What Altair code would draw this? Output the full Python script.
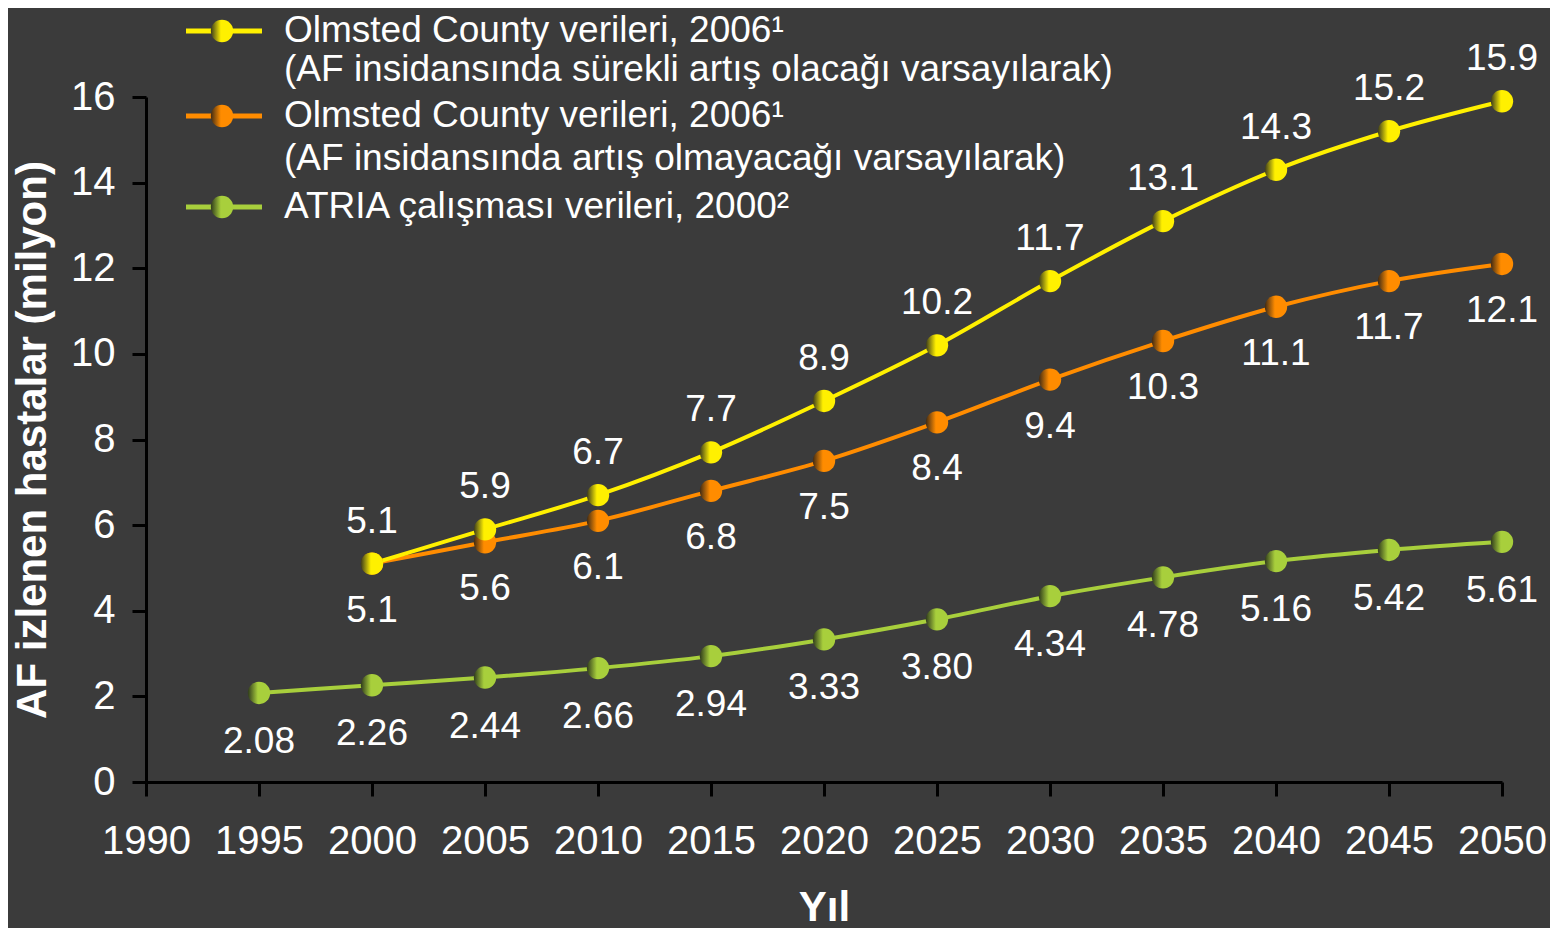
import altair as alt
import pandas as pd

years_olm = [2000, 2005, 2010, 2015, 2020, 2025, 2030, 2035, 2040, 2045, 2050]
olm_increase = [5.1, 5.9, 6.7, 7.7, 8.9, 10.2, 11.7, 13.1, 14.3, 15.2, 15.9]
olm_constant = [5.1, 5.6, 6.1, 6.8, 7.5, 8.4, 9.4, 10.3, 11.1, 11.7, 12.1]
years_atria = [1995, 2000, 2005, 2010, 2015, 2020, 2025, 2030, 2035, 2040, 2045, 2050]
atria = [2.08, 2.26, 2.44, 2.66, 2.94, 3.33, 3.80, 4.34, 4.78, 5.16, 5.42, 5.61]
atria_labels = ["2.08", "2.26", "2.44", "2.66", "2.94", "3.33", "3.80", "4.34", "4.78", "5.16", "5.42", "5.61"]

legend_lines = [
    ["Olmsted County verileri, 2006¹", "(AF insidansında sürekli artış olacağı varsayılarak)"],
    ["Olmsted County verileri, 2006¹", "(AF insidansında artış olmayacağı varsayılarak)"],
    ["ATRIA çalışması verileri, 2000²"],
]

YELLOW = "#fff000"
ORANGE = "#ff8c00"
GREEN = "#a8cf3c"
BG = "#3b3b3b"
FONT = "Liberation Sans"

df_y = pd.DataFrame({"year": years_olm, "value": olm_increase, "label": [f"{v:.1f}" for v in olm_increase]})
df_o = pd.DataFrame({"year": years_olm, "value": olm_constant, "label": [f"{v:.1f}" for v in olm_constant]})
df_g = pd.DataFrame({"year": years_atria, "value": atria, "label": atria_labels})

xs = alt.Scale(domain=[1990, 2050], nice=False, zero=False)
ys = alt.Scale(domain=[0, 16], nice=False)

X = alt.X("year:Q", scale=xs,
          axis=alt.Axis(title="Yıl", values=list(range(1990, 2051, 5)), format="d",
                        titleFontSize=42, titleFontWeight="bold", titleColor="white",
                        titlePadding=26, grid=False, labelPadding=25))
Y = alt.Y("value:Q", scale=ys,
          axis=alt.Axis(title="AF izlenen hastalar (milyon)", values=list(range(0, 17, 2)),
                        titleFontSize=42, titleFontWeight="bold", titleColor="white",
                        titlePadding=16, grid=False, labelPadding=17))


def grad(c, dark):
    return alt.LinearGradient(gradient="linear",
                              stops=[alt.GradientStop(offset=0, color=dark),
                                     alt.GradientStop(offset=0.45, color=c),
                                     alt.GradientStop(offset=1, color=c)],
                              x1=0, x2=1, y1=0, y2=0)


def series(df, color, dark, dy):
    base = alt.Chart(df)
    line = base.mark_line(color=color, strokeWidth=4, interpolate="monotone").encode(x=X, y=Y)
    pts = base.mark_point(filled=True, fill=grad(color, dark), opacity=1, size=500,
                          shape="circle", strokeWidth=0).encode(x=X, y=Y)
    txt = base.mark_text(color="white", fontSize=37, font=FONT, dy=dy,
                         baseline="middle").encode(x=X, y=Y, text="label:N")
    return line, pts, txt


ly, py_, ty = series(df_y, YELLOW, "#3a3a1c", -42)
lo, po, to = series(df_o, ORANGE, "#3f2a14", 47)
lg, pg, tg = series(df_g, GREEN, "#2f3a1c", 49)

# legend (pixel positions relative to plot origin)
one = pd.DataFrame({"a": [0]})
legend_layers = []
leg_colors = [(YELLOW, "#3a3a1c"), (ORANGE, "#3f2a14"), (GREEN, "#2f3a1c")]
leg_y = [-66, 19, 110]
leg_gap = [39, 43, 43]
for (c, d), yy, gap, lines in zip(leg_colors, leg_y, leg_gap, legend_lines):
    legend_layers.append(alt.Chart(one).mark_rule(color=c, strokeWidth=5).encode(
        x=alt.value(40), x2=alt.value(116), y=alt.value(yy)))
    legend_layers.append(alt.Chart(one).mark_point(filled=True, fill=grad(c, d), opacity=1,
                                                   size=500, shape="circle", strokeWidth=0).encode(
        x=alt.value(76), y=alt.value(yy)))
    for i, t in enumerate(lines):
        legend_layers.append(alt.Chart(one).mark_text(
            text=t, color="white", fontSize=37, font=FONT, align="left", baseline="middle").encode(
            x=alt.value(138), y=alt.value(yy + gap * i)))

chart = alt.layer(lg, lo, ly, pg, po, py_, tg, to, ty, *legend_layers).properties(
    width=1356, height=685,
    autosize=alt.AutoSizeParams(type="none"),
    padding={"left": 138, "top": 89, "right": 48, "bottom": 146},
    background=BG,
).configure_view(stroke=None).configure_axis(
    domainColor="black", domainWidth=3, tickColor="black", tickWidth=3, tickSize=14,
    labelColor="white", labelFontSize=40, labelFont=FONT, titleFont=FONT,
    labelFlush=False,
)

chart.save("out.html", embed_options={"renderer": "svg", "actions": False})
